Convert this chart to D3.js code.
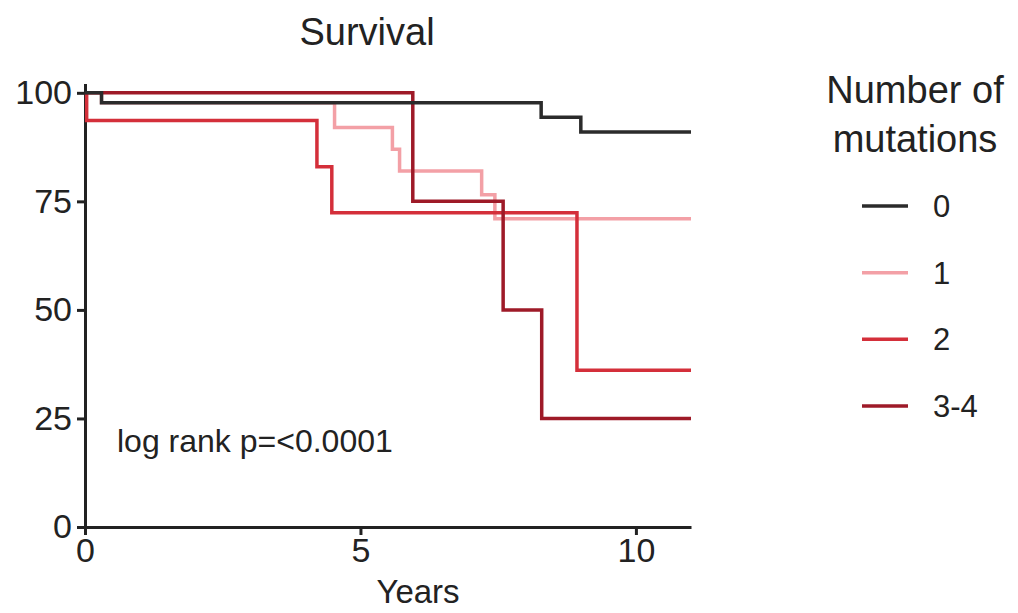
<!DOCTYPE html>
<html>
<head>
<meta charset="utf-8">
<script src="https://cdn.jsdelivr.net/npm/d3@7"></script>
<style>
  html, body { margin: 0; padding: 0; background: #fff; }
  svg { display: block; }
  text { font-family: "Liberation Sans", Arial, sans-serif; fill: #222; }
</style>
</head>
<body>
<svg id="chart" width="1018" height="613"></svg>
<script>
// ---- data (Kaplan-Meier step curves, % survival) ----
const groups = ["0", "1", "2", "3-4"];
const colors = ["#2b2b2b", "#f3a0a6", "#d42f3a", "#9e1a28"];
const times0 = [0, 0.3, 8.28, 9.0, 11];
const surv0  = [100, 97.7, 94.4, 91, 91];
const times1 = [0, 0.3, 4.53, 5.58, 5.71, 7.2, 7.44, 11];
const surv1  = [100, 97.7, 92, 87, 82, 76.5, 71, 71];
const times2 = [0, 0.03, 4.21, 4.48, 8.93, 11];
const surv2  = [100, 93.6, 83, 72.4, 36.1, 36.1];
const times3 = [0, 5.95, 7.59, 8.29, 11];
const surv3  = [100, 75, 50, 25, 25];
const xTicks = [0, 5, 10];
const yTicks = [0, 25, 50, 75, 100];
const title = "Survival";
const xLabel = "Years";
const legendTitle = ["Number of", "mutations"];
const annotation = "log rank p=<0.0001";

const seriesTimes = [times0, times1, times2, times3];
const seriesSurv = [surv0, surv1, surv2, surv3];

const svg = d3.select("#chart");
const x = d3.scaleLinear().domain([0, 11]).range([85, 691]);
const y = d3.scaleLinear().domain([0, 101.8]).range([527, 85]);

// axes
const yAxis = d3.axisLeft(y).tickValues(yTicks).tickSize(8).tickPadding(5).tickSizeOuter(0);
const gy = svg.append("g").attr("transform", `translate(${x(0)},0)`).call(yAxis);
const xAxis = d3.axisBottom(x).tickValues(xTicks).tickSize(8).tickPadding(3).tickSizeOuter(0);
const gx = svg.append("g").attr("transform", `translate(0,${y(0)})`).call(xAxis);
[gx, gy].forEach(g => {
  g.selectAll("path.domain, line").attr("stroke", "#222").attr("stroke-width", 3);
  g.selectAll("text").style("font-family", '"Liberation Sans", Arial, sans-serif')
    .style("font-size", "34px").attr("fill", "#222");
});
gy.select("path.domain").attr("stroke-linecap", "square");

// curves
const line = d3.line().curve(d3.curveStepAfter).x(d => x(d[0])).y(d => y(d[1]));
const drawOrder = [1, 2, 3, 0];
drawOrder.forEach(i => {
  const pts = seriesTimes[i].map((t, k) => [t, seriesSurv[i][k]]);
  svg.append("path").datum(pts)
    .attr("d", line)
    .attr("fill", "none")
    .attr("stroke", colors[i])
    .attr("stroke-width", 3.5);
});

// title and labels
svg.append("text").attr("x", 367).attr("y", 45).attr("text-anchor", "middle")
  .style("font-size", "38px").text(title);
svg.append("text").attr("x", 418).attr("y", 603).attr("text-anchor", "middle")
  .style("font-size", "33px").text(xLabel);
svg.append("text").attr("x", 117).attr("y", 452)
  .style("font-size", "32px").text(annotation);

// legend
legendTitle.forEach((t, i) => {
  svg.append("text").attr("x", 915).attr("y", 103 + i * 49).attr("text-anchor", "middle")
    .style("font-size", "38px").text(t);
});
const legY = d3.scalePoint().domain(groups).range([206, 406]);
groups.forEach((g, i) => {
  svg.append("line").attr("x1", 862).attr("x2", 908)
    .attr("y1", legY(g)).attr("y2", legY(g))
    .attr("stroke", colors[i]).attr("stroke-width", 3.5);
  svg.append("text").attr("x", 933).attr("y", legY(g) + 11)
    .style("font-size", "31px").text(g);
});
</script>
</body>
</html>
